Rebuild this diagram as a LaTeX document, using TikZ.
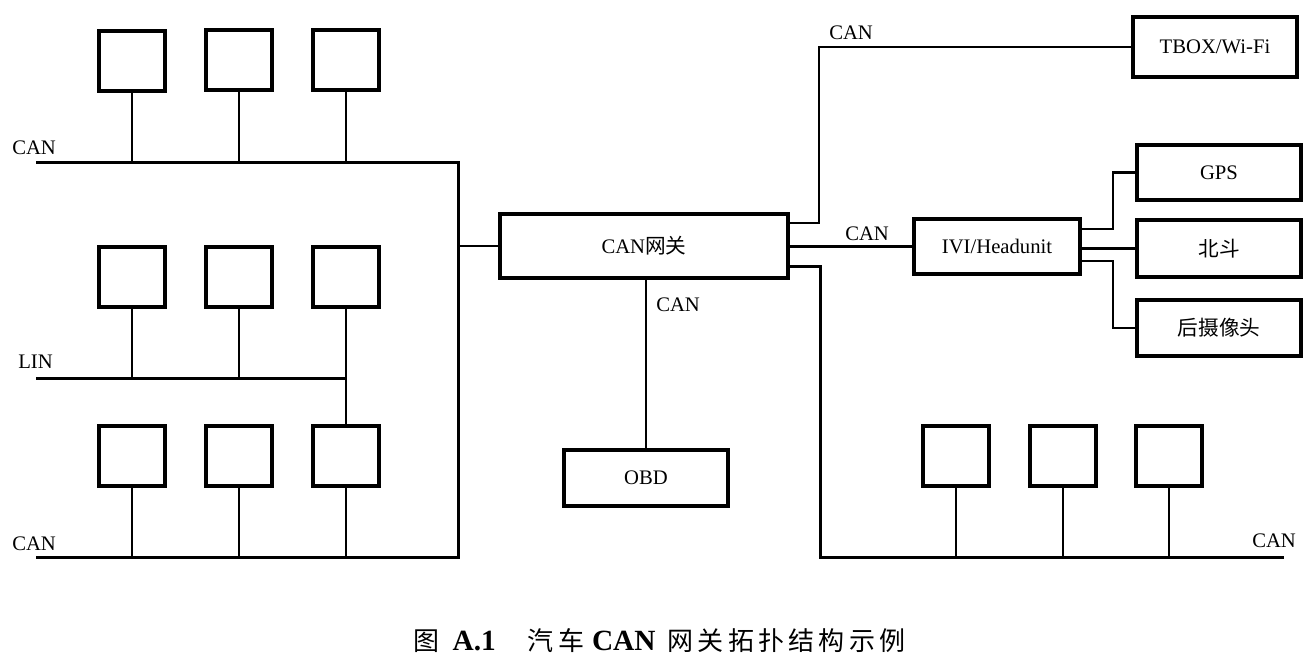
\documentclass[tikz,border=0pt]{standalone}
\usepackage{fontspec}
\setmainfont{Liberation Serif}
\newfontfamily\cjk{Noto Sans CJK SC}
\newcommand\capgap{\hspace{3.2pt}}
\begin{document}
\begin{tikzpicture}[x=0.75pt,y=-0.75pt,
  box/.style={draw,line width=3pt,minimum width=49.5pt,minimum height=45pt,inner sep=0pt},
  bigbox/.style={draw,line width=3pt,inner sep=0pt,font=\fontsize{15.5pt}{18pt}\selectfont},
  wire/.style={line width=2pt},
  bus/.style={line width=2.25pt},
  lbl/.style={font=\fontsize{15.5pt}{18pt}\selectfont,inner sep=0pt}]
\useasboundingbox (0,0) rectangle (1314,665);
\fill[white] (0,0) rectangle (1314,665);
% small ECU boxes
\node[box] (a1) at (132,61) {};
\node[box] (a2) at (239,60) {};
\node[box] (a3) at (346,60) {};
\node[box] (m1) at (132,277) {};
\node[box] (m2) at (239,277) {};
\node[box] (m3) at (346,277) {};
\node[box] (c1) at (132,456) {};
\node[box] (c2) at (239,456) {};
\node[box] (c3) at (346,456) {};
\node[box] (r1) at (956,456) {};
\node[box] (r2) at (1063,456) {};
\node[box] (r3) at (1169,456) {};
% main boxes
\node[bigbox,minimum width=216pt,minimum height=48pt] (gw) at (644,246) {CAN{\cjk 网关}};
\node[bigbox,minimum width=123pt,minimum height=42pt] (obd) at (646,478) {OBD};
\node[bigbox,minimum width=123pt,minimum height=45pt] (tbox) at (1215,47) {TBOX/Wi-Fi};
\node[bigbox,minimum width=124.5pt,minimum height=41pt] (ivi) at (997,246.5) {IVI/Headunit};
\node[bigbox,minimum width=123pt,minimum height=41pt] (gps) at (1219,172.5) {GPS};
\node[bigbox,minimum width=123pt,minimum height=43pt] (bd) at (1219,248.5) {\cjk 北斗};
\node[bigbox,minimum width=123pt,minimum height=42pt] (cam) at (1219,328) {\cjk 后摄像头};
% helper coordinates
\coordinate (tl) at (36,162);
\coordinate (tr) at (458,162);
\coordinate (bl) at (36,557);
\coordinate (br) at (458,557);
\coordinate (ll) at (36,378);
\coordinate (lr) at (346,378);
\coordinate (y223) at (0,223);
\coordinate (y266) at (0,266);
\coordinate (y229) at (0,229);
\coordinate (y261) at (0,261);
\coordinate (v1) at (819,0);
\coordinate (v2) at (820,557);
\coordinate (rb) at (1284,557);
\coordinate (k) at (1113,0);
% buses
\draw[bus,line join=miter] (tl) -- (tr) -- (br) -- (bl);
\draw[bus] (ll) -- (lr);
\foreach \n in {a1,a2,a3} \draw[wire] (\n.south) -- (\n.south |- tl);
\foreach \n in {m1,m2,m3} \draw[wire] (\n.south) -- (\n.south |- ll);
\draw[wire] (c3.north) -- (c3.north |- ll);
\foreach \n in {c1,c2,c3} \draw[wire] (\n.south) -- (\n.south |- bl);
% gateway links
\draw[wire] (gw.west) -- (gw.west -| tr);
\draw[wire] (gw.south -| obd.north) -- (obd.north);
\draw[wire] (gw.east |- y223) -| (v1 |- tbox.west) -- (tbox.west);
\draw[wire] (gw.east |- ivi.west) -- (ivi.west);
\draw[bus,line join=miter] (gw.east |- y266) -| (v2) -- (rb);
\foreach \n in {r1,r2,r3} \draw[wire] (\n.south) -- (\n.south |- v2);
% IVI links
\draw[wire] (ivi.east |- y229) -- (k |- y229) -- (k |- gps.west) -- (gps.west);
\draw[wire] (ivi.east |- bd.west) -- (bd.west);
\draw[wire] (ivi.east |- y261) -- (k |- y261) -- (k |- cam.west) -- (cam.west);
% labels
\node[lbl,anchor=west] (lcan1) at (12,148) {CAN};
\node[lbl,anchor=west] (llin) at (18,362) {LIN};
\node[lbl,anchor=west] (lcan2) at (12,544) {CAN};
\node[lbl,anchor=west] (lcan3) at (829,33) {CAN};
\node[lbl,anchor=west] (lcan4) at (845,234) {CAN};
\node[lbl,anchor=west] (lcan5) at (656,305) {CAN};
\node[lbl,anchor=west] (lcan6) at (1252,541) {CAN};
% caption
\node[inner sep=0pt,anchor=west,font=\fontsize{22pt}{26pt}\selectfont] (cap) at (413,641)
  {{\cjk\fontsize{19.5pt}{22pt}\selectfont 图}\hspace{10pt}\textbf{A.1}\hspace{24pt}{\cjk\fontsize{19.5pt}{22pt}\selectfont 汽\capgap 车}\hspace{6pt}\textbf{CAN}\hspace{9pt}{\cjk\fontsize{19.5pt}{22pt}\selectfont 网\capgap 关\capgap 拓\capgap 扑\capgap 结\capgap 构\capgap 示\capgap 例}};
\end{tikzpicture}
\end{document}
